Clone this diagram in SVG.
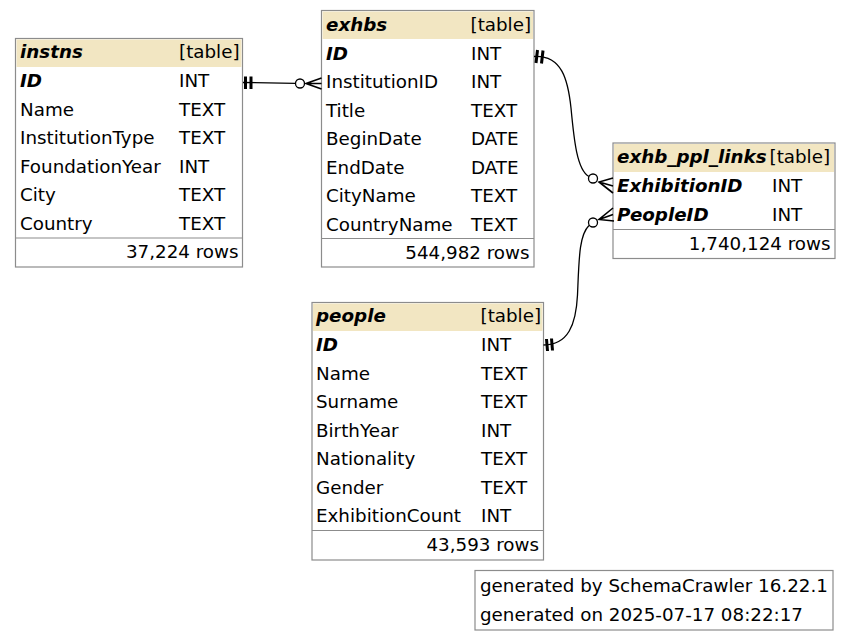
<svg xmlns="http://www.w3.org/2000/svg" width="851" height="641" viewBox="0 0 851 641">
<style>
text{font-family:"DejaVu Sans","Verdana",sans-serif;font-size:18.3px;fill:#000}
.pk{font-weight:bold;font-style:italic}
.r{text-anchor:end}
.box{fill:#fff;stroke:#8c8c8c;stroke-width:1.2}
.hd{fill:#F2E6C2;stroke:none}
.sep{stroke:#8c8c8c;stroke-width:1.2}
.edge{fill:none;stroke:#000;stroke-width:1.3}
.tee{stroke:#000;stroke-width:3;fill:none}
.circ{fill:#fff;stroke:#000;stroke-width:1.3}
.crow{fill:none;stroke:#000;stroke-width:1.6}
</style>
<rect width="851" height="641" fill="#fff"/>

<g id="instns">
<rect class="box" x="15.5" y="38.5" width="227" height="228.5"/>
<rect class="hd" x="16.5" y="39.5" width="225" height="27.5"/>
<line class="sep" x1="15.5" y1="238" x2="242.5" y2="238"/>
<text class="pk" x="20" y="57.5">instns</text><text x="179" y="57.5">[table]</text>
<text class="pk" x="20" y="87">ID</text><text x="179" y="87">INT</text>
<text x="20" y="115.5">Name</text><text x="179" y="115.5">TEXT</text>
<text x="20" y="144">InstitutionType</text><text x="179" y="144">TEXT</text>
<text x="20" y="172.5">FoundationYear</text><text x="179" y="172.5">INT</text>
<text x="20" y="201">City</text><text x="179" y="201">TEXT</text>
<text x="20" y="229.5">Country</text><text x="179" y="229.5">TEXT</text>
<text class="r" x="238.5" y="258">37,224 rows</text>
</g>

<g id="exhbs">
<rect class="box" x="321.5" y="10.5" width="212.5" height="256.5"/>
<rect class="hd" x="322.5" y="11.5" width="210.5" height="27.5"/>
<line class="sep" x1="321.5" y1="238.5" x2="534" y2="238.5"/>
<text class="pk" x="326" y="30.5">exhbs</text><text x="470.5" y="30.5">[table]</text>
<text class="pk" x="326" y="59.5">ID</text><text x="471" y="59.5">INT</text>
<text x="326" y="88">InstitutionID</text><text x="471" y="88">INT</text>
<text x="326" y="116.5">Title</text><text x="471" y="116.5">TEXT</text>
<text x="326" y="145">BeginDate</text><text x="471" y="145">DATE</text>
<text x="326" y="173.5">EndDate</text><text x="471" y="173.5">DATE</text>
<text x="326" y="202">CityName</text><text x="471" y="202">TEXT</text>
<text x="326" y="230.5">CountryName</text><text x="471" y="230.5">TEXT</text>
<text class="r" x="529.5" y="258.5">544,982 rows</text>
</g>

<g id="exhb_ppl_links">
<rect class="box" x="613" y="143" width="222" height="115.5"/>
<rect class="hd" x="614" y="144" width="220" height="28"/>
<line class="sep" x1="613" y1="229.5" x2="835" y2="229.5"/>
<text class="pk" x="617" y="163">exhb_ppl_links</text><text x="769.5" y="163">[table]</text>
<text class="pk" x="617" y="192">ExhibitionID</text><text x="772" y="192">INT</text>
<text class="pk" x="617" y="220.5">PeopleID</text><text x="772" y="220.5">INT</text>
<text class="r" x="830.5" y="249.5">1,740,124 rows</text>
</g>

<g id="people">
<rect class="box" x="312" y="302.5" width="231.5" height="257.5"/>
<rect class="hd" x="313" y="303.5" width="229.5" height="27.5"/>
<line class="sep" x1="312" y1="530.5" x2="543.5" y2="530.5"/>
<text class="pk" x="316" y="322">people</text><text x="480.5" y="322">[table]</text>
<text class="pk" x="316" y="351">ID</text><text x="481" y="351">INT</text>
<text x="316" y="379.5">Name</text><text x="481" y="379.5">TEXT</text>
<text x="316" y="408">Surname</text><text x="481" y="408">TEXT</text>
<text x="316" y="436.5">BirthYear</text><text x="481" y="436.5">INT</text>
<text x="316" y="465">Nationality</text><text x="481" y="465">TEXT</text>
<text x="316" y="493.5">Gender</text><text x="481" y="493.5">TEXT</text>
<text x="316" y="522">ExhibitionCount</text><text x="481" y="522">INT</text>
<text class="r" x="539" y="550.5">43,593 rows</text>
</g>

<g id="legend">
<rect class="box" x="475" y="570.5" width="358" height="59.5"/>
<text x="480" y="592">generated by SchemaCrawler 16.22.1</text>
<text x="480" y="620.5">generated on 2025-07-17 08:22:17</text>
</g>

<g id="connectors">
<g id="e_instns_exhbs">
<line class="tee" x1="245.5" y1="76.5" x2="245.5" y2="89"/>
<line class="tee" x1="251" y1="76.5" x2="251" y2="89"/>
<path class="edge" d="M243,82.5 L295.5,83.3"/>
<circle class="circ" cx="300" cy="83.5" r="4.5"/>
<path class="crow" d="M321.5,78 L306,83.5 L321.5,89 M306,83.5 L321.5,83.5"/>
</g>
<g id="e_exhbs_links">
<line class="tee" x1="537.5" y1="50" x2="536" y2="63"/>
<line class="tee" x1="543" y1="50.5" x2="541.5" y2="63.5"/>
<path class="edge" d="M534,56.5 C562,55 568,80 571,108 C574,140 577,170 589,176.5"/>
<circle class="circ" cx="593" cy="178.5" r="4.5"/>
<path class="crow" d="M613,178 L599,182 L613,193 M599,182 L613,186"/>
</g>
<g id="e_people_links">
<line class="tee" x1="546.5" y1="339" x2="547.5" y2="351"/>
<line class="tee" x1="551.5" y1="338.5" x2="552.5" y2="350.5"/>
<path class="edge" d="M543.5,345 C568,345 576,325 577.5,295 C579,260 579,235 589,225.5"/>
<circle class="circ" cx="593" cy="222.5" r="4.5"/>
<path class="crow" d="M613,208 L599,219.5 L614,221 M599,219.5 L613,214.5"/>
</g>
</g>
</svg>
